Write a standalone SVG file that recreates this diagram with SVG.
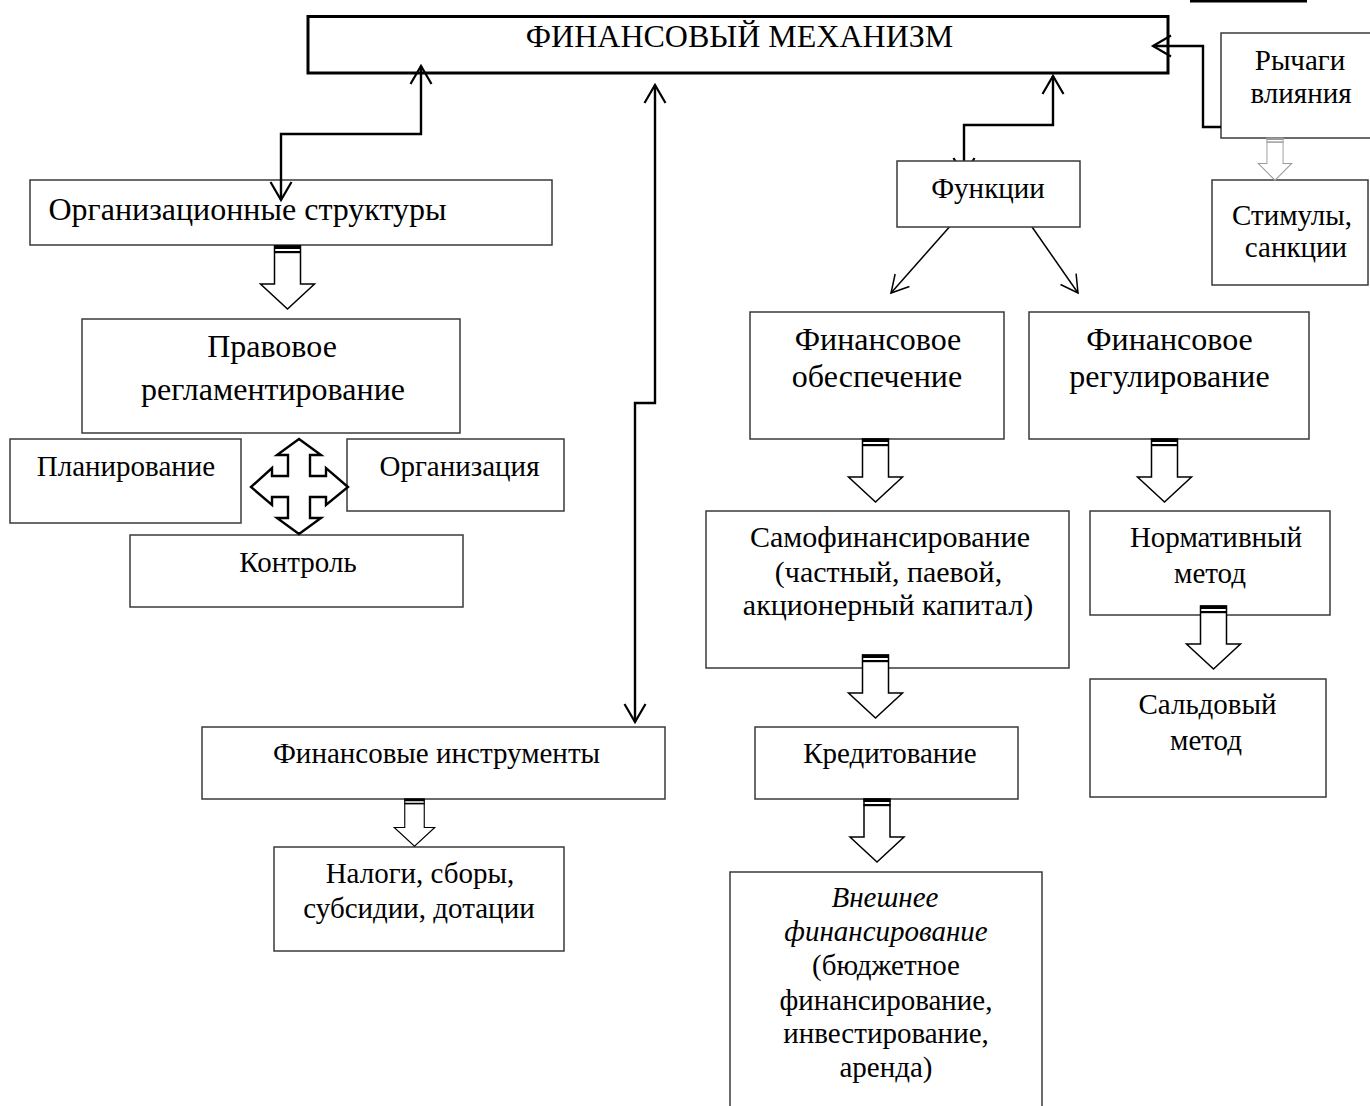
<svg xmlns="http://www.w3.org/2000/svg" xmlns:xlink="http://www.w3.org/1999/xlink" width="1370" height="1106" viewBox="0 0 1370 1106">
<style>
  .box { fill: #fff; stroke: #3a3a3a; stroke-width: 1.5; }
  .main { fill: #fff; stroke: #000; stroke-width: 3; }
  text { font-family: "Liberation Serif", "Times New Roman", serif; fill: #000; text-anchor: middle; }
  .t29 { font-size: 29px; }
  .t30 { font-size: 30px; }
  .t32 { font-size: 32px; }
  .it { font-style: italic; }
  .conn { fill: none; stroke: #000; stroke-width: 2.4; stroke-linejoin: miter; }
  .diag { fill: none; stroke: #000; stroke-width: 1.5; }
</style>
<defs>
  <marker id="ah" markerUnits="userSpaceOnUse" markerWidth="30" markerHeight="30" viewBox="-22 -15 30 30" refX="0" refY="0" orient="auto-start-reverse">
    <path d="M-18,-10.5 L0,0 L-18,10.5" fill="none" stroke="#000" stroke-width="2.2"/>
  </marker>
  <marker id="ah2" markerUnits="userSpaceOnUse" markerWidth="30" markerHeight="30" viewBox="-22 -15 30 30" refX="0" refY="0" orient="auto">
    <path d="M-17,-9.5 L0,0 L-17,9.5" fill="none" stroke="#000" stroke-width="1.5"/>
  </marker>
  <g id="barrow">
    <path d="M-13,0 H13 V38 H27 L0,63 L-27,38 H-13 Z" fill="#fff" stroke="currentColor" stroke-width="1.5"/>
    <rect x="-13.5" y="-0.5" width="27" height="3.5" fill="currentColor"/>
    <rect x="-13.5" y="5" width="27" height="2.2" fill="currentColor"/>
  </g>
</defs>

<line x1="1190" y1="1" x2="1307" y2="1" stroke="#000" stroke-width="3"/>

<g id="node-main">
  <rect class="main" x="308" y="16.5" width="860" height="56.5"/>
  <text class="t32" x="739.5" y="47">ФИНАНСОВЫЙ МЕХАНИЗМ</text>
</g>
<g id="node-rychagi">
  <rect class="box" x="1221" y="33" width="160" height="105"/>
  <text class="t29" x="1300" y="70">Рычаги</text>
  <text class="t29" x="1301" y="103">влияния</text>
</g>
<g id="node-stimuly">
  <rect class="box" x="1212" y="180" width="156" height="105"/>
  <text class="t29" x="1292" y="225">Стимулы,</text>
  <text class="t29" x="1296" y="257">санкции</text>
</g>
<g id="node-org-struct">
  <rect class="box" x="30" y="180" width="522" height="65"/>
  <text class="t32" x="247.5" y="220">Организационные структуры</text>
</g>
<g id="node-pravovoe">
  <rect class="box" x="82" y="319" width="378" height="114"/>
  <text class="t32" x="272" y="357">Правовое</text>
  <text class="t32" x="273" y="400">регламентирование</text>
</g>
<g id="node-planirovanie">
  <rect class="box" x="10" y="439" width="231" height="84"/>
  <text class="t29" x="126" y="476">Планирование</text>
</g>
<g id="node-organizaciya">
  <rect class="box" x="347" y="439" width="217" height="72"/>
  <text class="t29" x="459.5" y="476">Организация</text>
</g>
<g id="node-kontrol">
  <rect class="box" x="130" y="535" width="333" height="72"/>
  <text class="t29" x="298" y="572">Контроль</text>
</g>
<g id="node-fin-instr">
  <rect class="box" x="202" y="727" width="463" height="72"/>
  <text class="t29" x="436.5" y="763">Финансовые инструменты</text>
</g>
<g id="node-nalogi">
  <rect class="box" x="274" y="847" width="290" height="104"/>
  <text class="t29" x="420" y="883">Налоги, сборы,</text>
  <text class="t29" x="419" y="918">субсидии, дотации</text>
</g>
<g id="node-fin-obesp">
  <rect class="box" x="750" y="312" width="254" height="127"/>
  <text class="t32" x="878" y="350">Финансовое</text>
  <text class="t32" x="877" y="387">обеспечение</text>
</g>
<g id="node-fin-regul">
  <rect class="box" x="1029" y="312" width="280" height="127"/>
  <text class="t32" x="1169.5" y="350">Финансовое</text>
  <text class="t32" x="1169.5" y="387">регулирование</text>
</g>
<g id="node-samofin">
  <rect class="box" x="706" y="511" width="363" height="157"/>
  <text class="t30" x="890" y="547">Самофинансирование</text>
  <text class="t30" x="888.5" y="582">(частный, паевой,</text>
  <text class="t30" x="888" y="615">акционерный капитал)</text>
</g>
<g id="node-normativ">
  <rect class="box" x="1090" y="511" width="240" height="104"/>
  <text class="t29" x="1216" y="547">Нормативный</text>
  <text class="t29" x="1210" y="583">метод</text>
</g>
<g id="node-saldo">
  <rect class="box" x="1090" y="679" width="236" height="118"/>
  <text class="t29" x="1207.5" y="714">Сальдовый</text>
  <text class="t29" x="1206" y="750">метод</text>
</g>
<g id="node-kredit">
  <rect class="box" x="755" y="727" width="263" height="72"/>
  <text class="t29" x="890" y="763">Кредитование</text>
</g>
<g id="node-vneshnee">
  <rect class="box" x="730" y="872" width="312" height="260"/>
  <text class="t29 it" x="885" y="907">Внешнее</text>
  <text class="t29 it" x="886" y="941">финансирование</text>
  <text class="t29" x="886" y="975">(бюджетное</text>
  <text class="t29" x="886" y="1010">финансирование,</text>
  <text class="t29" x="886" y="1043">инвестирование,</text>
  <text class="t29" x="886" y="1077">аренда)</text>
</g>

<g id="connectors">
  <polyline class="conn" points="281,200 281,134 421,134 421,66" marker-start="url(#ah)" marker-end="url(#ah)"/>
  <polyline class="conn" points="655,85 655,403 635,403 635,722" marker-start="url(#ah)" marker-end="url(#ah)"/>
  <polyline class="conn" points="1053,76 1053,125 964,125 964,176" marker-start="url(#ah)" marker-end="url(#ah)"/>
  <polyline class="conn" points="1221,127 1203,127 1203,46 1153,46" marker-end="url(#ah)"/>
  <line class="diag" x1="952" y1="224" x2="891" y2="293" marker-end="url(#ah2)"/>
  <line class="diag" x1="1030" y1="224" x2="1078" y2="293" marker-end="url(#ah2)"/>

  <use xlink:href="#barrow" href="#barrow" color="#000" transform="translate(287.5,246)"/>
  <use xlink:href="#barrow" href="#barrow" color="#000" transform="translate(875.5,439)"/>
  <use xlink:href="#barrow" href="#barrow" color="#000" transform="translate(1164.5,439)"/>
  <use xlink:href="#barrow" href="#barrow" color="#000" transform="translate(875.5,655)"/>
  <use xlink:href="#barrow" href="#barrow" color="#000" transform="translate(1213.5,606)"/>
  <use xlink:href="#barrow" href="#barrow" color="#000" transform="translate(877,799)"/>
  <use xlink:href="#barrow" href="#barrow" color="#000" transform="translate(414.5,799) scale(0.75,0.75)"/>
  <use xlink:href="#barrow" href="#barrow" color="#9a9a9a" transform="translate(1275,138) scale(0.62,0.67)"/>

  <path d="M299,439 L321,455 L310,455 L310,476 L326,476 L326,468 L348,487 L326,505 L326,497 L310,497 L310,518 L321,518 L299,534 L277,518 L288,518 L288,497 L272,497 L272,505 L251,487 L272,468 L272,476 L288,476 L288,455 L277,455 Z" fill="#fff" stroke="#000" stroke-width="2.4" stroke-linejoin="miter"/>
</g>

<g id="node-funkcii">
  <rect class="box" x="897" y="161" width="183" height="66"/>
  <text class="t29" x="988" y="198">Функции</text>
</g>
</svg>
